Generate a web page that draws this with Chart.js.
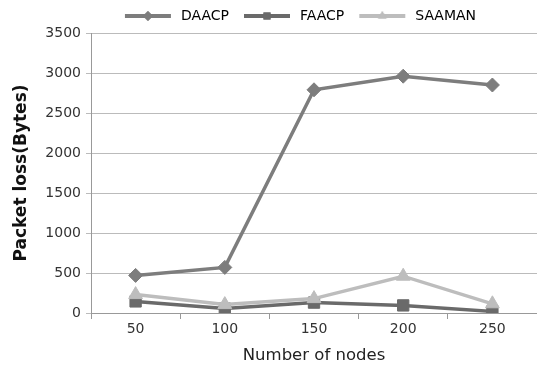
<!DOCTYPE html>
<html><head><meta charset="utf-8">
<script src="https://cdn.jsdelivr.net/npm/chart.js@4.4.0/dist/chart.umd.min.js"></script>
<style>html,body{margin:0;padding:0;background:#fff;} #wrap{width:537px;height:366px;}</style>
</head><body><div id="wrap"><canvas id="c" width="537" height="366"></canvas></div>
<script>
const categories = ['50', '100', '150', '200', '250'];
const daacp = [470, 570, 2790, 2960, 2850];
const faacp = [145, 55, 130, 95, 20];
const saaman = [230, 105, 180, 460, 115];
const seriesNames = ['DAACP', 'FAACP', 'SAAMAN'];
const yMin = 0, yMax = 3500, yStep = 500;

const colors = ['#7d7d7d', '#6a6a6a', '#bdbdbd'];
const styles = ['rectRot', 'rect', 'triangle'];

function legendIcon(color, style) {
  const c = document.createElement('canvas');
  c.width = 55; c.height = 14;
  const ctx = c.getContext('2d');
  ctx.strokeStyle = color; ctx.lineWidth = 4;
  ctx.beginPath(); ctx.moveTo(6, 7); ctx.lineTo(52, 7); ctx.stroke();
  ctx.fillStyle = color;
  Chart.helpers.drawPoint(ctx, {pointStyle: style, radius: 5, rotation: 0, borderWidth: 0}, 29, 7);
  ctx.fill();
  return c;
}

const legendShift = {
  id: 'legendShift',
  afterLayout(chart) {
    chart.legend.left += 25; chart.legend.right += 25;
  }
};

const ds = [
  {label: seriesNames[0], data: daacp, order: 2},
  {label: seriesNames[1], data: faacp, order: 1},
  {label: seriesNames[2], data: saaman, order: 0}
].map((d, i) => Object.assign(d, {
  borderColor: colors[i], backgroundColor: colors[i], borderWidth: 3.5,
  pointStyle: styles[i], pointRadius: i === 1 ? 8 : (i === 0 ? 7 : 8),
  pointBorderColor: colors[i], pointBackgroundColor: colors[i], pointBorderWidth: 1,
  tension: 0
}));

new Chart(document.getElementById('c'), {
  type: 'line',
  data: {labels: categories, datasets: ds},
  options: {
    responsive: false, animation: false,
    layout: {autoPadding: false, padding: {left: 8, right: 0, top: 0, bottom: 0}},
    plugins: {
      tooltip: {enabled: false},
      legend: {
        position: 'top',
        labels: {
          usePointStyle: true, pointStyleWidth: 55, padding: 9,
          color: '#222', font: {family: 'DejaVu Sans', size: 14},
          generateLabels(chart) {
            return seriesNames.map((n, i) => ({
              text: n, pointStyle: legendIcon(colors[i], styles[i]),
              datasetIndex: i, fillStyle: colors[i], strokeStyle: colors[i], lineWidth: 0, hidden: false
            }));
          }
        }
      }
    },
    scales: {
      x: {
        offset: true,
        grid: {display: true, drawOnChartArea: false, drawTicks: true, tickLength: 6, offset: true, color: '#999'},
        border: {color: '#999'},
        ticks: {color: '#333', font: {family: 'DejaVu Sans', size: 14}, padding: 2},
        title: {display: true, text: 'Number of nodes', color: '#222', font: {family: 'DejaVu Sans', size: 16.5}, padding: {top: 2, bottom: 0}},
        afterFit(s) { s.height = 366 - 313; s.paddingLeft = 0; s.paddingRight = 0; }
      },
      y: {
        min: yMin, max: yMax,
        ticks: {stepSize: yStep, color: '#333', font: {family: 'DejaVu Sans', size: 14}, padding: 5,
                callback: v => String(v)},
        grid: {color: '#bbb', tickLength: 5},
        border: {color: '#999'},
        title: {display: true, text: 'Packet loss(Bytes)', color: '#111', font: {family: 'DejaVu Sans', size: 17, weight: 'bold'}, padding: {top: 3, bottom: 4}},
        afterFit(s) { s.width = 91 - 8; }
      }
    }
  },
  plugins: [legendShift]
});
</script></body></html>
